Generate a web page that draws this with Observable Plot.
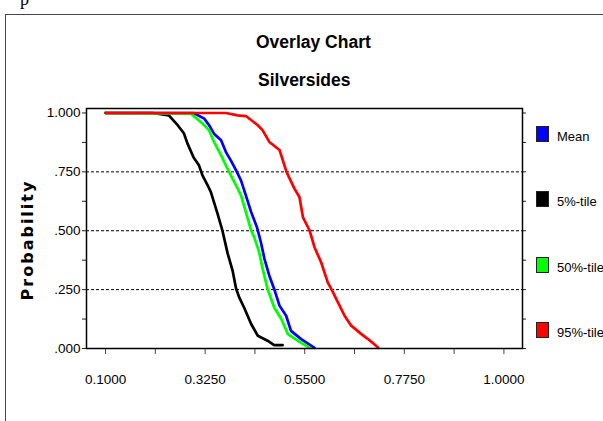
<!DOCTYPE html>
<html>
<head>
<meta charset="utf-8">
<script src="https://cdn.jsdelivr.net/npm/d3@7"></script>
<script src="https://cdn.jsdelivr.net/npm/@observablehq/plot@0.6"></script>
<style>
  html, body { margin: 0; padding: 0; background: #fff; }
  #wrap { position: relative; width: 603px; height: 421px; overflow: hidden; font-family: "Liberation Sans", Arial, sans-serif; }
  #outer { position: absolute; left: 5px; top: 14px; right: -10px; bottom: -10px; border-left: 1px solid #444; border-top: 1px solid #444; }
  #chart { position: absolute; left: 0; top: 0; }
  .t { position: absolute; white-space: nowrap; color: #000; }
  .title { font-weight: bold; font-size: 17.5px; }
  .sw { position: absolute; width: 11px; height: 14px; border: 1px solid #222; }
  .lg { position: absolute; font-size: 13px; white-space: nowrap; }
</style>
</head>
<body>
<div id="wrap">
  <div class="t" style="left:20px; top:-11px; font-family:'Liberation Serif',serif; font-size:18px;">p</div>
  <div id="outer"></div>
  <div id="chart"></div>
  <div class="t title" style="left:256px; top:32px;">Overlay Chart</div>
  <div class="t title" style="left:258px; top:70px;">Silversides</div>
  <div class="t" style="left:27px; top:240px; transform: translate(-50%,-50%) rotate(-90deg); font-family:'DejaVu Sans',sans-serif; font-weight:bold; font-size:16px; letter-spacing:2px;">Probability</div>
  <div id="legend"></div>
</div>
<script>
const seriesNames = ["Mean", "5%-tile", "50%-tile", "95%-tile"];
const seriesColors = ["#0000ff", "#000000", "#00ff00", "#ff0000"];

const meanX = [0.100, 0.300, 0.323, 0.334, 0.345, 0.361, 0.372, 0.383, 0.395, 0.406, 0.417, 0.429, 0.442, 0.451, 0.459, 0.470, 0.481, 0.493, 0.508, 0.519, 0.542, 0.572];
const meanY = [1.000, 0.999, 0.976, 0.948, 0.912, 0.884, 0.834, 0.799, 0.756, 0.714, 0.650, 0.579, 0.515, 0.451, 0.381, 0.309, 0.253, 0.182, 0.139, 0.075, 0.040, 0.003];

const p5X = [0.100, 0.206, 0.243, 0.263, 0.277, 0.285, 0.299, 0.311, 0.319, 0.331, 0.338, 0.353, 0.364, 0.376, 0.387, 0.395, 0.402, 0.413, 0.429, 0.444, 0.466, 0.481, 0.500];
const p5Y = [1.000, 1.000, 0.990, 0.948, 0.914, 0.871, 0.811, 0.778, 0.735, 0.692, 0.664, 0.573, 0.501, 0.403, 0.331, 0.254, 0.217, 0.174, 0.104, 0.054, 0.033, 0.014, 0.014];

const p50X = [0.100, 0.293, 0.319, 0.334, 0.345, 0.361, 0.372, 0.383, 0.395, 0.406, 0.417, 0.429, 0.436, 0.447, 0.455, 0.466, 0.481, 0.497, 0.512, 0.534, 0.561];
const p50Y = [1.000, 0.997, 0.955, 0.926, 0.877, 0.820, 0.777, 0.735, 0.692, 0.650, 0.579, 0.501, 0.472, 0.409, 0.338, 0.253, 0.174, 0.125, 0.061, 0.033, 0.003];

const p95X = [0.100, 0.285, 0.372, 0.398, 0.417, 0.444, 0.455, 0.470, 0.493, 0.509, 0.527, 0.538, 0.546, 0.561, 0.572, 0.587, 0.602, 0.614, 0.625, 0.640, 0.655, 0.678, 0.693, 0.704, 0.716];
const p95Y = [1.000, 1.000, 1.000, 0.990, 0.987, 0.948, 0.926, 0.877, 0.843, 0.749, 0.678, 0.643, 0.557, 0.501, 0.430, 0.366, 0.281, 0.238, 0.196, 0.139, 0.097, 0.061, 0.040, 0.023, 0.003];

const xTicks = [0.1, 0.2125, 0.325, 0.4375, 0.55, 0.6625, 0.775, 0.8875, 1.0];
const xLabeled = [0.1, 0.325, 0.55, 0.775, 1.0];
const yTicks = [0, 0.125, 0.25, 0.375, 0.5, 0.625, 0.75, 0.875, 1.0];
const yLabeled = [0, 0.25, 0.5, 0.75, 1.0];
const gridY = [0.25, 0.5, 0.75];

const seriesX = [meanX, p5X, p50X, p95X];
const seriesY = [meanY, p5Y, p50Y, p95Y];
const rows = [];
seriesNames.forEach((name, i) => {
  seriesX[i].forEach((x, j) => rows.push({series: name, x, y: seriesY[i][j]}));
});

const near = (arr, v) => arr.some(a => Math.abs(a - v) < 1e-9);
const yFmt = d => near(yLabeled, d) ? (d === 1 ? "1.000" : d3.format(".3f")(d).replace(/^0/, "")) : "";
const xFmt = d => near(xLabeled, d) ? d3.format(".4f")(d) : "";

const chart = Plot.plot({
  width: 603,
  height: 421,
  marginLeft: 86,
  marginRight: 81,
  marginTop: 108,
  marginBottom: 73,
  x: {domain: [0.057, 1.042]},
  y: {domain: [0, 1.019]},
  color: {domain: seriesNames, range: seriesColors},
  style: {fontFamily: "'Liberation Sans', Arial, sans-serif", fontSize: "13.5px", background: "transparent", color: "black", overflow: "visible"},
  marks: [
    Plot.ruleY(gridY, {stroke: "black", strokeWidth: 1, strokeDasharray: "3,2"}),
    Plot.axisY({ticks: yTicks, tickSize: 4, tickPadding: 2, tickFormat: yFmt, label: null, stroke: "#222"}),
    Plot.axisY({anchor: "right", ticks: yTicks, tickSize: 3, tickFormat: () => "", label: null, stroke: "#222"}),
    Plot.axisX({ticks: xTicks, tickSize: 6, tickPadding: 20, tickFormat: xFmt, label: null, stroke: "#444"}),
    Plot.line(rows, {x: "x", y: "y", z: "series", stroke: "series", strokeWidth: 2.7}),
    Plot.frame({stroke: "black", strokeWidth: 1.5})
  ]
});
document.getElementById("chart").appendChild(chart);

const legend = document.getElementById("legend");
seriesNames.forEach((name, i) => {
  const top = 126 + i * 65.3;
  const sw = document.createElement("div");
  sw.className = "sw";
  sw.style.left = "536px";
  sw.style.top = top + "px";
  sw.style.background = seriesColors[i];
  legend.appendChild(sw);
  const lb = document.createElement("div");
  lb.className = "lg";
  lb.style.left = "557px";
  lb.style.top = (top + 3) + "px";
  lb.textContent = name;
  legend.appendChild(lb);
});
</script>
</body>
</html>
